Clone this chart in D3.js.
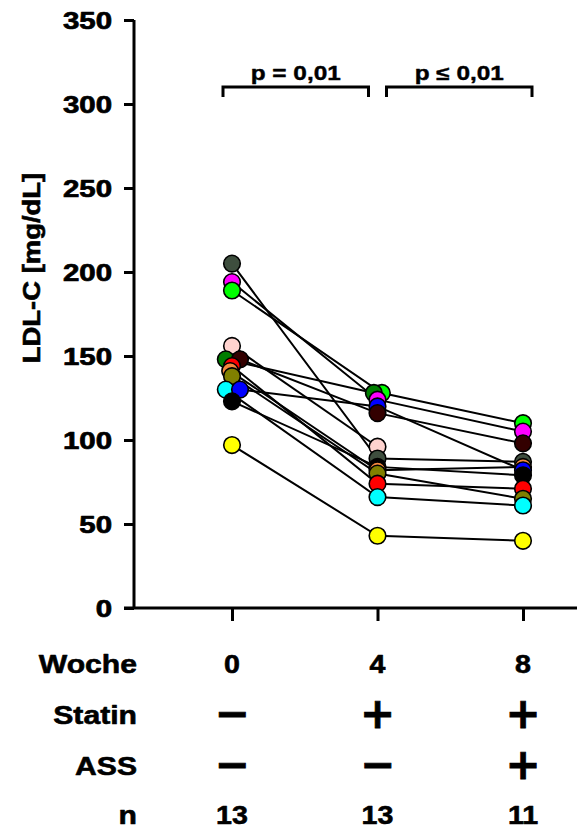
<!DOCTYPE html>
<html>
<head>
<meta charset="utf-8">
<script src="https://cdn.jsdelivr.net/npm/d3@7"></script>
<style>
  html, body { margin: 0; padding: 0; background: #fff; }
  svg { display: block; }
  text { font-family: "Liberation Sans", Arial, sans-serif; font-weight: bold; fill: #000; }
  .sym { font-family: "DejaVu Sans", sans-serif; }
</style>
</head>
<body>
<svg id="chart" width="577" height="829"></svg>
<script>
// Study weeks and per-patient LDL-C values (mg/dL); null = no measurement
const weeks = [0, 4, 8];
const patientColors = ["#3e4e3e", "#ff00ff", "#00ff00", "#ffd3cf", "#007d00", "#330000",
                       "#ff0000", "#f5883e", "#808000", "#00ffff", "#0000ff", "#000000", "#ffff00"];
const week0 = [205, 194, 189, 156, 148, 148, 144, 141, 138, 130, 130, 123, 97];
const week4 = [89, 124, 128, 96, 128, 116, 74, 82, 80, 66, 120, 84, 43];
const week8 = [87, 105, 110, null, null, 98, 71, 84, 65, 61, 82, 79, 40];
// small horizontal offsets (in weeks) so overlapping dots stay visible
const jitter0 = [0, 0, 0, 0, -0.17, 0.22, 0, -0.05, 0, -0.17, 0.22, 0, 0];
const jitter4 = [0, 0, 0.12, 0, -0.1, 0, 0, 0, 0, 0, 0, 0, 0];
const jitter8 = [0, 0, 0, 0, 0, 0, 0, 0, 0, 0, 0, 0, 0];

const yTicks = [0, 50, 100, 150, 200, 250, 300, 350];
const yTitle = "LDL-C [mg/dL]";
const pLabels = ["p = 0,01", "p \u2264 0,01"];
const pPairs = [[0, 4], [4, 8]];
const rowLabels = ["Woche", "Statin", "ASS", "n"];
const weekLabels = ["0", "4", "8"];
const statinRow = ["\u2212", "+", "+"];
const assRow = ["\u2212", "\u2212", "+"];
const nRow = ["13", "13", "11"];

const svg = d3.select("#chart");
const axisX = 134, yTop = 20, yBottom = 608;

const x = d3.scaleLinear().domain([0, 8]).range([232, 523]);
const y = d3.scaleLinear().domain([0, 350]).range([yBottom, yTop]);

// heavy, wide lettering: widen glyphs horizontally and thicken with a thin outline
function widen(sel, sx, weight) {
  sel.each(function () {
    const t = d3.select(this);
    const tx = +t.attr("x") || 0, ty = +t.attr("y") || 0;
    t.attr("x", 0).attr("y", 0)
      .attr("transform", `translate(${tx},${ty}) scale(${sx},1)`);
  });
  sel.attr("stroke", "#000").attr("stroke-width", weight).attr("stroke-linejoin", "round");
}

// y axis
const yAxis = svg.append("g")
  .attr("transform", `translate(${axisX},0)`)
  .call(d3.axisLeft(y).tickValues(yTicks).tickSize(10).tickPadding(12).tickFormat(d3.format("d")));
yAxis.select(".domain").attr("stroke", "#000").attr("stroke-width", 3).attr("d", `M0,${yTop}V${yBottom}`);
yAxis.selectAll(".tick line").attr("stroke", "#000").attr("stroke-width", 3);
yAxis.selectAll(".tick text").style("font-size", "23px").attr("dy", "0.36em")
  .attr("x", -22).attr("fill", "#000");
widen(yAxis.selectAll(".tick text"), 1.28, 0.7);

// x axis (ticks only, labels are in the table below)
const xAxis = svg.append("g")
  .attr("transform", `translate(0,${yBottom})`)
  .call(d3.axisBottom(x).tickValues(weeks).tickSize(13).tickFormat(""));
xAxis.select(".domain").attr("stroke", "#000").attr("stroke-width", 3).attr("d", `M124,0H577`);
xAxis.selectAll(".tick line").attr("stroke", "#000").attr("stroke-width", 3);

// y title
svg.append("text")
  .attr("transform", `translate(40,268) rotate(-90) scale(1.12,1)`)
  .attr("text-anchor", "middle")
  .attr("stroke", "#000").attr("stroke-width", 0.6)
  .style("font-size", "24.5px")
  .text(yTitle);

// patients
const patients = patientColors.map((c, i) => ({
  color: c,
  pts: [
    { w: 0, v: week0[i], j: jitter0[i] },
    { w: 4, v: week4[i], j: jitter4[i] },
    { w: 8, v: week8[i], j: jitter8[i] }
  ].filter(p => p.v != null)
}));

const line = d3.line().x(p => x(p.w + p.j)).y(p => y(p.v));
svg.append("g").selectAll("path").data(patients).join("path")
  .attr("d", d => line(d.pts))
  .attr("fill", "none").attr("stroke", "#000").attr("stroke-width", 2);

// dots: per week, higher values drawn first so lower ones sit on top
const dots = [];
patients.forEach(p => p.pts.forEach(pt => dots.push({ ...pt, color: p.color })));
dots.sort((a, b) => a.w - b.w || b.v - a.v);
svg.append("g").selectAll("circle").data(dots).join("circle")
  .attr("cx", d => x(d.w + d.j)).attr("cy", d => y(d.v)).attr("r", 8.3)
  .attr("fill", d => d.color).attr("stroke", "#000").attr("stroke-width", 1.6);

// significance brackets
const bTop = 87, bLeg = 97;
pPairs.forEach((pr, i) => {
  const x0 = x(pr[0]) + (i ? 9 : -9), x1 = x(pr[1]) + (i ? 9 : -9);
  svg.append("path")
    .attr("d", `M${x0},${bLeg}V${bTop}H${x1}V${bLeg}`)
    .attr("fill", "none").attr("stroke", "#000").attr("stroke-width", 3);
  const t = svg.append("text")
    .attr("x", (x0 + x1) / 2).attr("y", 80)
    .attr("text-anchor", "middle").style("font-size", "19.5px")
    .text(pLabels[i]);
  widen(t, 1.25, 0.4);
});

// condition table below the axis
const rowY = [673, 724, 775, 824];
const labels = svg.append("g").selectAll("text").data(rowLabels).join("text")
  .attr("x", 137).attr("y", (d, r) => rowY[r])
  .attr("text-anchor", "end").style("font-size", "26px").text(d => d);
widen(labels, 1.16, 0.6);

const rows = [weekLabels, statinRow, assRow, nRow];
rows.forEach((row, r) => {
  const sym = r === 1 || r === 2;
  const cells = svg.append("g").selectAll("text").data(row).join("text")
    .attr("class", sym ? "sym" : null)
    .attr("x", (d, i) => x(weeks[i]))
    .attr("y", rowY[r] + (sym ? 4 : 0))
    .attr("text-anchor", "middle")
    .style("font-size", sym ? "42px" : "26px")
    .text(d => d);
  if (!sym) widen(cells, 1.1, 0.6);
  else cells.attr("stroke", "#000").attr("stroke-width", 0.8);
});
</script>
</body>
</html>
